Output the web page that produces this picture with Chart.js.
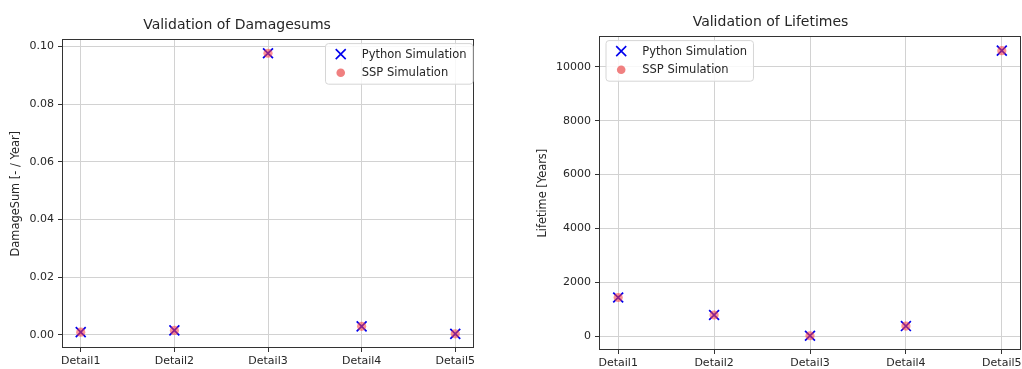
<!DOCTYPE html>
<html>
<head>
<meta charset="utf-8">
<script src="https://cdn.jsdelivr.net/npm/chart.js@4"></script>
<style>
  body { margin: 0; background: #fff; width: 1022px; height: 369px; overflow: hidden; position: relative; }
  canvas { position: absolute; top: 0; }
  #damageChart { left: 0; }
  #lifetimeChart { left: 520px; }
</style>
</head>
<body>
<canvas id="damageChart" width="500" height="369"></canvas>
<canvas id="lifetimeChart" width="502" height="369"></canvas>
<script>
// categories and values
const categories = ['Detail1', 'Detail2', 'Detail3', 'Detail4', 'Detail5'];
const damagePython = [0.0009, 0.0015, 0.0976, 0.0029, 0.0003];
const damageSSP = [0.0009, 0.0015, 0.0976, 0.0029, 0.0003];
const damageTicks = [0, 0.02, 0.04, 0.06, 0.08, 0.10];
const lifetimePython = [1430, 780, 10, 370, 10600];
const lifetimeSSP = [1430, 780, 10, 370, 10600];
const lifetimeTicks = [0, 2000, 4000, 6000, 8000, 10000];
const seriesNames = ['Python Simulation', 'SSP Simulation'];

const FONT = 'DejaVu Sans';
const TEXT = '#262626';
const GRID = '#d2d2d2';
const BLUE = '#0000ee';
const RED = 'rgba(255, 60, 60, 0.55)';

function toPoints(values) {
    return values.map((v, i) => ({ x: i, y: v }));
}

// draws the black box round the plot area, like matplotlib spines
const framePlugin = {
    id: 'frame',
    afterDatasetsDraw(chart) {
        const a = chart.chartArea;
        const ctx = chart.ctx;
        ctx.save();
        ctx.strokeStyle = '#333';
        ctx.lineWidth = 1;
        ctx.strokeRect(Math.round(a.left) + 0.5, Math.round(a.top) + 0.5,
            Math.round(a.right - a.left) - 1, Math.round(a.bottom - a.top) - 1);
        ctx.restore();
    }
};

// legend inside the plot area
const innerLegend = {
    id: 'innerLegend',
    afterDraw(chart, args, opts) {
        const a = chart.chartArea;
        const ctx = chart.ctx;
        ctx.save();
        ctx.font = '11.5px "' + FONT + '"';
        const textW = Math.max(...seriesNames.map(n => ctx.measureText(n).width));
        const w = 36.7 + textW + 6;
        const h = 40.6;
        const x = opts.side === 'right' ? a.right - 1.5 - w : a.left + 6.5;
        const y = a.top + 3.7;
        ctx.fillStyle = 'rgba(255,255,255,0.85)';
        ctx.strokeStyle = '#d6d6d6';
        ctx.lineWidth = 1;
        ctx.beginPath();
        ctx.roundRect(x + 0.5, y + 0.5, w, h, 3);
        ctx.fill();
        ctx.stroke();

        // row 1: blue x
        const mx = x + 15.7;
        const r1 = y + 11;
        const r2 = y + 29.6;
        ctx.strokeStyle = BLUE;
        ctx.lineWidth = 1.6;
        ctx.beginPath();
        ctx.moveTo(mx - 5, r1 - 5); ctx.lineTo(mx + 5, r1 + 5);
        ctx.moveTo(mx - 5, r1 + 5); ctx.lineTo(mx + 5, r1 - 5);
        ctx.stroke();
        // row 2: red dot
        ctx.fillStyle = 'rgba(240,128,128,1)';
        ctx.beginPath();
        ctx.arc(mx, r2, 4.3, 0, Math.PI * 2);
        ctx.fill();

        ctx.fillStyle = TEXT;
        ctx.textBaseline = 'middle';
        ctx.fillText(seriesNames[0], x + 36.7, r1 + 0.5);
        ctx.fillText(seriesNames[1], x + 36.7, r2 + 0.5);
        ctx.restore();
    }
};

function makeChart(id, cfg) {
    const ctx = document.getElementById(id).getContext('2d');
    return new Chart(ctx, {
        type: 'scatter',
        data: {
            datasets: [{
                label: seriesNames[0],
                data: toPoints(cfg.python),
                pointStyle: 'crossRot',
                radius: 7,
                borderWidth: 1.7,
                borderColor: BLUE,
                backgroundColor: BLUE,
                order: 1
            }, {
                label: seriesNames[1],
                data: toPoints(cfg.ssp),
                pointStyle: 'circle',
                radius: 4.6,
                borderWidth: 0,
                backgroundColor: RED,
                order: 0
            }]
        },
        options: {
            responsive: false,
            animation: false,
            events: [],
            layout: {
                autoPadding: false,
                padding: { left: 0, right: cfg.padRight, top: 0, bottom: 0 }
            },
            plugins: {
                legend: { display: false },
                tooltip: { enabled: false },
                title: {
                    display: true,
                    text: cfg.title,
                    color: TEXT,
                    font: { family: FONT, size: 14, weight: 'normal', lineHeight: 1.2 },
                    padding: { top: cfg.titleTop, bottom: 5.6 }
                },
                innerLegend: { side: cfg.legendSide }
            },
            scales: {
                x: {
                    type: 'linear',
                    min: -0.2,
                    max: 4.2,
                    afterBuildTicks: scale => {
                        scale.ticks = categories.map((c, i) => ({ value: i }));
                    },
                    afterFit: scale => {
                        scale.height = cfg.xHeight;
                        scale.paddingLeft = 0;
                        scale.paddingRight = 0;
                    },
                    ticks: {
                        callback: v => categories[v],
                        color: TEXT,
                        padding: 3,
                        maxRotation: 0,
                        autoSkip: false,
                        font: { family: FONT, size: 11 }
                    },
                    grid: { color: GRID, lineWidth: 1, tickColor: '#333', tickLength: 4 },
                    border: { display: false }
                },
                y: {
                    min: cfg.yMin,
                    max: cfg.yMax,
                    afterBuildTicks: scale => {
                        scale.ticks = cfg.yTicks.map(v => ({ value: v }));
                    },
                    afterFit: scale => {
                        scale.width = cfg.yWidth;
                        scale.paddingTop = 0;
                        scale.paddingBottom = 0;
                    },
                    ticks: {
                        callback: cfg.yFormat,
                        color: TEXT,
                        padding: 4,
                        font: { family: FONT, size: 11 }
                    },
                    grid: { color: GRID, lineWidth: 1, tickColor: '#333', tickLength: 4 },
                    border: { display: false },
                    title: {
                        display: true,
                        text: cfg.yLabel,
                        color: TEXT,
                        font: { family: FONT, size: 11.4, lineHeight: 1.2 },
                        padding: { top: cfg.yTitlePad, bottom: 0 }
                    }
                }
            }
        },
        plugins: [framePlugin, innerLegend]
    });
}

makeChart('damageChart', {
    title: 'Validation of Damagesums',
    python: damagePython,
    ssp: damageSSP,
    yMin: -0.0046,
    yMax: 0.1024,
    yTicks: damageTicks,
    yFormat: v => v.toFixed(2),
    yLabel: 'DamageSum [- / Year]',
    yWidth: 62,
    yTitlePad: 9,
    xHeight: 21,
    padRight: 26,
    titleTop: 17,
    legendSide: 'right'
});

makeChart('lifetimeChart', {
    title: 'Validation of Lifetimes',
    python: lifetimePython,
    ssp: lifetimeSSP,
    yMin: -520,
    yMax: 11130,
    yTicks: lifetimeTicks,
    yFormat: v => String(v),
    yLabel: 'Lifetime [Years]',
    yWidth: 79,
    yTitlePad: 16,
    xHeight: 19,
    padRight: 1,
    titleTop: 14,
    legendSide: 'left'
});
</script>
</body>
</html>
